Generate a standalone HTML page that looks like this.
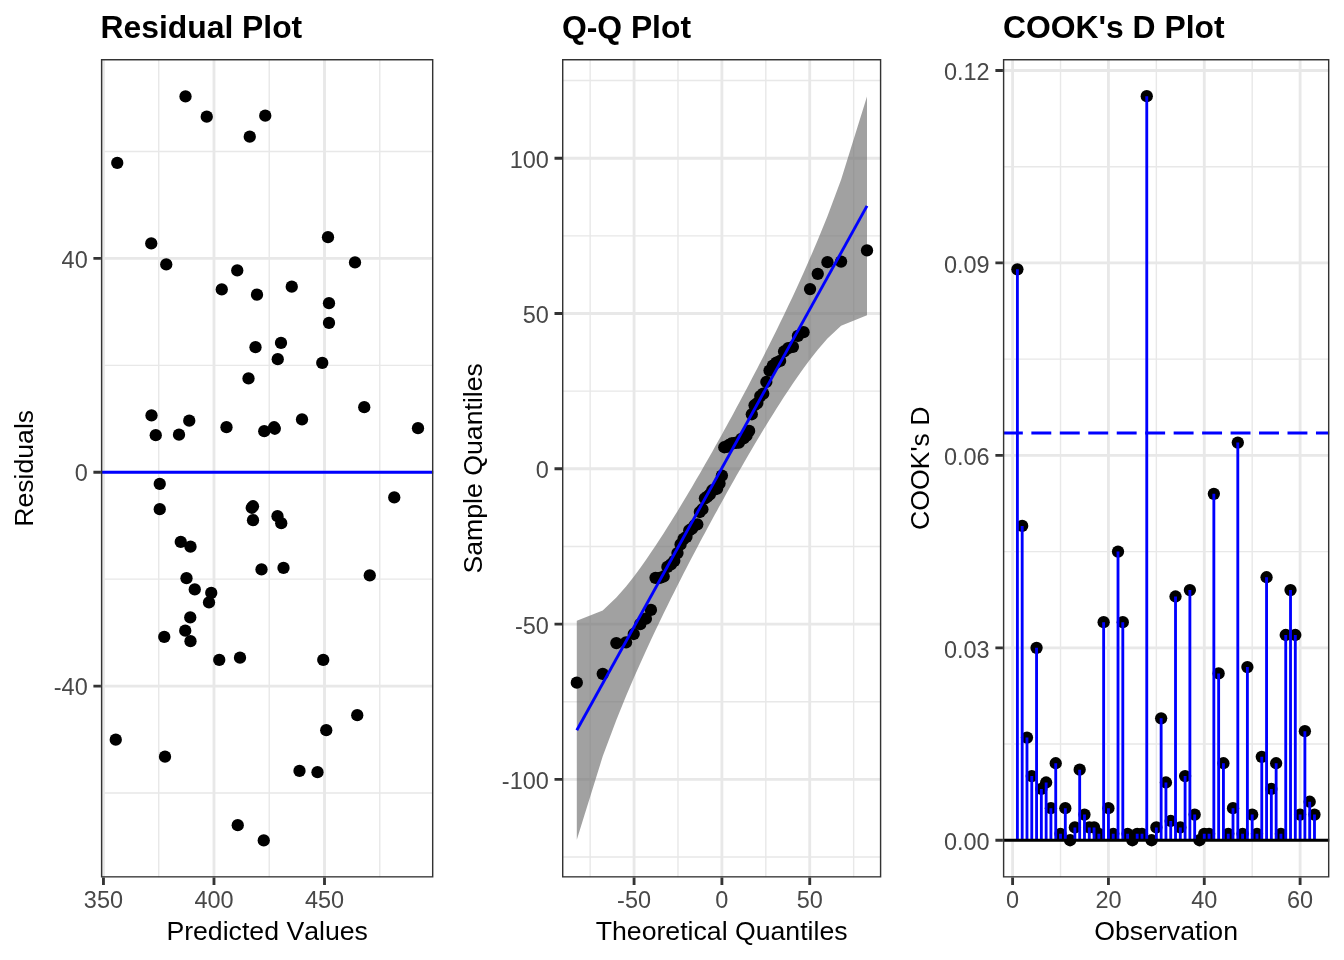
<!DOCTYPE html>
<html lang="en"><head><meta charset="utf-8"><title>Diagnostic Plots</title>
<style>html,body{margin:0;padding:0;background:#fff}svg{display:block}</style></head>
<body>
<svg width="1344" height="960" viewBox="0 0 1344 960" font-family="'Liberation Sans', Arial, Helvetica, sans-serif" style="font-kerning:none">
<rect width="1344" height="960" fill="#fff"/>
<clipPath id="c1"><rect x="100.9" y="59.05" width="332.5" height="818.55"/></clipPath>
<g clip-path="url(#c1)">
<rect x="100.9" y="59.05" width="332.5" height="818.55" fill="#fff"/>
<path d="M100.9 151.51H433.4M100.9 365.34H433.4M100.9 579.16H433.4M100.9 792.99H433.4M158.71 59.05V877.6M269.24 59.05V877.6M379.76 59.05V877.6" stroke="#E8E8E8" stroke-width="1.42" fill="none"/>
<path d="M100.9 258.43H433.4M100.9 472.25H433.4M100.9 686.07H433.4M103.45 59.05V877.6M213.98 59.05V877.6M324.5 59.05V877.6" stroke="#E8E8E8" stroke-width="2.85" fill="none"/>
<g fill="#000"><circle cx="185.5" cy="96.4" r="6.15"/><circle cx="206.75" cy="116.65" r="6.15"/><circle cx="265.25" cy="115.65" r="6.15"/><circle cx="249.75" cy="136.65" r="6.15"/><circle cx="117.25" cy="162.9" r="6.15"/><circle cx="151.25" cy="243.4" r="6.15"/><circle cx="166.25" cy="264.4" r="6.15"/><circle cx="237.25" cy="270.4" r="6.15"/><circle cx="221.75" cy="289.4" r="6.15"/><circle cx="257" cy="294.65" r="6.15"/><circle cx="291.75" cy="286.65" r="6.15"/><circle cx="329" cy="303.15" r="6.15"/><circle cx="329" cy="322.9" r="6.15"/><circle cx="281" cy="342.9" r="6.15"/><circle cx="255.5" cy="347.15" r="6.15"/><circle cx="277.75" cy="359.15" r="6.15"/><circle cx="322.25" cy="362.9" r="6.15"/><circle cx="248.5" cy="378.4" r="6.15"/><circle cx="151.5" cy="415.4" r="6.15"/><circle cx="189.25" cy="420.65" r="6.15"/><circle cx="155.75" cy="435.15" r="6.15"/><circle cx="179" cy="434.65" r="6.15"/><circle cx="226.5" cy="427.15" r="6.15"/><circle cx="264.25" cy="431.15" r="6.15"/><circle cx="274.1" cy="427.25" r="6.15"/><circle cx="274.8" cy="428.75" r="6.15"/><circle cx="302" cy="419.4" r="6.15"/><circle cx="328" cy="237.15" r="6.15"/><circle cx="355" cy="262.4" r="6.15"/><circle cx="364.25" cy="407.15" r="6.15"/><circle cx="418" cy="428.15" r="6.15"/><circle cx="159.75" cy="483.9" r="6.15"/><circle cx="159.75" cy="509.15" r="6.15"/><circle cx="253" cy="506.25" r="6.15"/><circle cx="251.75" cy="507.75" r="6.15"/><circle cx="253" cy="520.15" r="6.15"/><circle cx="277.5" cy="516.15" r="6.15"/><circle cx="281.25" cy="523.15" r="6.15"/><circle cx="180.75" cy="541.9" r="6.15"/><circle cx="190.5" cy="546.65" r="6.15"/><circle cx="261.5" cy="569.4" r="6.15"/><circle cx="283.5" cy="567.9" r="6.15"/><circle cx="186.5" cy="578.15" r="6.15"/><circle cx="194.75" cy="589.4" r="6.15"/><circle cx="211.25" cy="592.9" r="6.15"/><circle cx="209" cy="602.4" r="6.15"/><circle cx="190.25" cy="617.4" r="6.15"/><circle cx="185.25" cy="630.65" r="6.15"/><circle cx="164.25" cy="636.9" r="6.15"/><circle cx="190.5" cy="641.15" r="6.15"/><circle cx="219.25" cy="659.9" r="6.15"/><circle cx="240" cy="657.65" r="6.15"/><circle cx="323.25" cy="659.9" r="6.15"/><circle cx="394.25" cy="497.4" r="6.15"/><circle cx="369.75" cy="575.4" r="6.15"/><circle cx="357.25" cy="715.15" r="6.15"/><circle cx="115.75" cy="739.65" r="6.15"/><circle cx="165" cy="756.65" r="6.15"/><circle cx="326.25" cy="730.15" r="6.15"/><circle cx="299.5" cy="770.9" r="6.15"/><circle cx="317.5" cy="772.15" r="6.15"/><circle cx="237.75" cy="825.15" r="6.15"/><circle cx="263.75" cy="840.4" r="6.15"/></g>
<path d="M100.9 472.25H433.4" stroke="#0000FF" stroke-width="2.85"/>
<rect x="100.9" y="59.05" width="332.5" height="818.55" fill="none" stroke="#333333" stroke-width="2.85"/>
</g>
<path d="M103.45 877.6v7.4M213.98 877.6v7.4M324.5 877.6v7.4M100.9 258.43h-7.5M100.9 472.25h-7.5M100.9 686.07h-7.5" stroke="#333333" stroke-width="2.85" fill="none"/>
<g font-size="23.47" fill="#484848">
<text x="103.45" y="908" text-anchor="middle">350</text>
<text x="213.98" y="908" text-anchor="middle">400</text>
<text x="324.5" y="908" text-anchor="middle">450</text>
<text x="87.7" y="267.53" text-anchor="end">40</text>
<text x="87.7" y="481.35" text-anchor="end">0</text>
<text x="87.7" y="695.17" text-anchor="end">-40</text>
</g>
<text x="267.15" y="940" font-size="26.67" text-anchor="middle">Predicted Values</text>
<text transform="translate(33.4 468.32) rotate(-90)" font-size="26.67" text-anchor="middle">Residuals</text>
<text x="100.5" y="38.2" font-size="31.85" font-weight="bold">Residual Plot</text>
<clipPath id="c2"><rect x="562" y="59.05" width="319.3" height="818.55"/></clipPath>
<g clip-path="url(#c2)">
<rect x="562" y="59.05" width="319.3" height="818.55" fill="#fff"/>
<path d="M562 80.58H881.3M562 235.86H881.3M562 391.15H881.3M562 546.43H881.3M562 701.72H881.3M562 857H881.3M590.16 59.05V877.6M677.99 59.05V877.6M765.81 59.05V877.6M853.64 59.05V877.6" stroke="#E8E8E8" stroke-width="1.42" fill="none"/>
<path d="M562 158.22H881.3M562 313.5H881.3M562 468.79H881.3M562 624.08H881.3M562 779.36H881.3M634.07 59.05V877.6M721.9 59.05V877.6M809.73 59.05V877.6" stroke="#E8E8E8" stroke-width="2.85" fill="none"/>
<polygon points="576.8,620.82 602.73,610.44 616.35,597.58 626.05,586.43 633.75,576.66 640.23,567.92 645.88,559.96 650.92,552.62 655.52,545.77 659.75,539.32 663.7,533.2 667.41,527.36 670.92,521.76 674.27,516.36 677.48,511.14 680.57,506.06 683.55,501.12 686.44,496.3 689.25,491.57 691.99,486.92 694.67,482.36 697.29,477.85 699.87,473.4 702.41,468.99 704.92,464.62 707.4,460.28 709.85,455.96 712.28,451.65 714.7,447.35 717.11,443.05 719.51,438.75 721.9,434.43 724.29,430.1 726.69,425.73 729.1,421.34 731.52,416.9 733.95,412.42 736.4,407.87 738.88,403.26 741.39,398.58 743.93,393.8 746.51,388.93 749.13,383.94 751.81,378.83 754.55,373.57 757.36,368.14 760.25,362.53 763.23,356.7 766.32,350.62 769.53,344.25 772.88,337.55 776.39,330.45 780.1,322.87 784.05,314.73 788.28,305.87 792.88,296.13 797.92,285.23 803.57,272.77 810.05,258.1 817.75,240.05 827.45,216.16 841.07,179.81 867,96.47 867,315.33 841.07,325.71 827.45,338.57 817.75,349.72 810.05,359.49 803.57,368.23 797.92,376.19 792.88,383.53 788.28,390.38 784.05,396.83 780.1,402.95 776.39,408.79 772.88,414.39 769.53,419.79 766.32,425.01 763.23,430.09 760.25,435.03 757.36,439.85 754.55,444.58 751.81,449.23 749.13,453.79 746.51,458.3 743.93,462.75 741.39,467.16 738.88,471.53 736.4,475.87 733.95,480.19 731.52,484.5 729.1,488.8 726.69,493.1 724.29,497.4 721.9,501.72 719.51,506.05 717.11,510.42 714.7,514.81 712.28,519.25 709.85,523.73 707.4,528.28 704.92,532.89 702.41,537.57 699.87,542.35 697.29,547.22 694.67,552.21 691.99,557.32 689.25,562.58 686.44,568.01 683.55,573.62 680.57,579.45 677.48,585.53 674.27,591.9 670.92,598.6 667.41,605.7 663.7,613.28 659.75,621.42 655.52,630.28 650.92,640.02 645.88,650.92 640.23,663.38 633.75,678.05 626.05,696.1 616.35,719.99 602.73,756.34 576.8,839.68" fill="#6E6E6E" fill-opacity="0.65"/>
<g fill="#000"><circle cx="576.8" cy="682.68" r="6.15"/><circle cx="602.73" cy="673.82" r="6.15"/><circle cx="616.35" cy="643.03" r="6.15"/><circle cx="626.05" cy="642.3" r="6.15"/><circle cx="633.75" cy="634.02" r="6.15"/><circle cx="640.23" cy="624.14" r="6.15"/><circle cx="645.88" cy="618.63" r="6.15"/><circle cx="650.92" cy="609.91" r="6.15"/><circle cx="655.52" cy="577.81" r="6.15"/><circle cx="659.75" cy="577.81" r="6.15"/><circle cx="663.7" cy="576.5" r="6.15"/><circle cx="667.41" cy="566.92" r="6.15"/><circle cx="670.92" cy="564.45" r="6.15"/><circle cx="674.27" cy="560.82" r="6.15"/><circle cx="677.48" cy="553.12" r="6.15"/><circle cx="680.57" cy="544.4" r="6.15"/><circle cx="683.55" cy="538.89" r="6.15"/><circle cx="686.44" cy="536.85" r="6.15"/><circle cx="689.25" cy="530.32" r="6.15"/><circle cx="691.99" cy="528.72" r="6.15"/><circle cx="694.67" cy="525.23" r="6.15"/><circle cx="697.29" cy="524.36" r="6.15"/><circle cx="699.87" cy="512.02" r="6.15"/><circle cx="702.41" cy="509.26" r="6.15"/><circle cx="704.92" cy="498.36" r="6.15"/><circle cx="707.4" cy="496.62" r="6.15"/><circle cx="709.85" cy="494.3" r="6.15"/><circle cx="712.28" cy="490.23" r="6.15"/><circle cx="714.7" cy="489.41" r="6.15"/><circle cx="717.11" cy="488.54" r="6.15"/><circle cx="719.51" cy="483.4" r="6.15"/><circle cx="721.9" cy="475.56" r="6.15"/><circle cx="724.29" cy="447.24" r="6.15"/><circle cx="726.69" cy="446.95" r="6.15"/><circle cx="729.1" cy="444.91" r="6.15"/><circle cx="731.52" cy="443.52" r="6.15"/><circle cx="733.95" cy="443.17" r="6.15"/><circle cx="736.4" cy="442.65" r="6.15"/><circle cx="738.88" cy="442.59" r="6.15"/><circle cx="741.39" cy="438.81" r="6.15"/><circle cx="743.93" cy="438.09" r="6.15"/><circle cx="746.51" cy="435.76" r="6.15"/><circle cx="749.13" cy="430.97" r="6.15"/><circle cx="751.81" cy="414.26" r="6.15"/><circle cx="754.55" cy="405.26" r="6.15"/><circle cx="757.36" cy="403.08" r="6.15"/><circle cx="760.25" cy="396.11" r="6.15"/><circle cx="763.23" cy="393.64" r="6.15"/><circle cx="766.32" cy="382.02" r="6.15"/><circle cx="769.53" cy="370.55" r="6.15"/><circle cx="772.88" cy="365.61" r="6.15"/><circle cx="776.39" cy="362.56" r="6.15"/><circle cx="780.1" cy="360.96" r="6.15"/><circle cx="784.05" cy="351.52" r="6.15"/><circle cx="788.28" cy="348.03" r="6.15"/><circle cx="792.88" cy="346.87" r="6.15"/><circle cx="797.92" cy="335.83" r="6.15"/><circle cx="803.57" cy="332.2" r="6.15"/><circle cx="810.05" cy="289.06" r="6.15"/><circle cx="817.75" cy="273.81" r="6.15"/><circle cx="827.45" cy="262.19" r="6.15"/><circle cx="841.07" cy="261.61" r="6.15"/><circle cx="867" cy="250.43" r="6.15"/></g>
<path d="M576.8 730.25L867 205.9" stroke="#0000FF" stroke-width="2.85"/>
<rect x="562" y="59.05" width="319.3" height="818.55" fill="none" stroke="#333333" stroke-width="2.85"/>
</g>
<path d="M634.07 877.6v7.4M721.9 877.6v7.4M809.73 877.6v7.4M562 158.22h-7.5M562 313.5h-7.5M562 468.79h-7.5M562 624.08h-7.5M562 779.36h-7.5" stroke="#333333" stroke-width="2.85" fill="none"/>
<g font-size="23.47" fill="#484848">
<text x="634.07" y="908" text-anchor="middle">-50</text>
<text x="721.9" y="908" text-anchor="middle">0</text>
<text x="809.73" y="908" text-anchor="middle">50</text>
<text x="548.8" y="167.82" text-anchor="end">100</text>
<text x="548.8" y="323.1" text-anchor="end">50</text>
<text x="548.8" y="478.39" text-anchor="end">0</text>
<text x="548.8" y="633.68" text-anchor="end">-50</text>
<text x="548.8" y="788.96" text-anchor="end">-100</text>
</g>
<text x="721.65" y="940" font-size="26.67" text-anchor="middle">Theoretical Quantiles</text>
<text transform="translate(481.8 468.32) rotate(-90)" font-size="26.67" text-anchor="middle">Sample Quantiles</text>
<text x="561.9" y="38.2" font-size="31.85" font-weight="bold">Q-Q Plot</text>
<clipPath id="c3"><rect x="1002.9" y="59.05" width="326.5" height="818.55"/></clipPath>
<g clip-path="url(#c3)">
<rect x="1002.9" y="59.05" width="326.5" height="818.55" fill="#fff"/>
<path d="M1002.9 744.03H1329.4M1002.9 551.59H1329.4M1002.9 359.15H1329.4M1002.9 166.72H1329.4M1060.52 59.05V877.6M1156.35 59.05V877.6M1252.18 59.05V877.6" stroke="#E8E8E8" stroke-width="1.42" fill="none"/>
<path d="M1002.9 840.25H1329.4M1002.9 647.81H1329.4M1002.9 455.37H1329.4M1002.9 262.94H1329.4M1002.9 70.5H1329.4M1012.6 59.05V877.6M1108.43 59.05V877.6M1204.27 59.05V877.6M1300.1 59.05V877.6" stroke="#E8E8E8" stroke-width="2.85" fill="none"/>
<g fill="#000"><circle cx="1017.39" cy="269.35" r="6.15"/><circle cx="1022.18" cy="525.93" r="6.15"/><circle cx="1026.98" cy="737.62" r="6.15"/><circle cx="1031.77" cy="776.1" r="6.15"/><circle cx="1036.56" cy="647.81" r="6.15"/><circle cx="1041.35" cy="788.93" r="6.15"/><circle cx="1046.14" cy="782.52" r="6.15"/><circle cx="1050.93" cy="808.18" r="6.15"/><circle cx="1055.73" cy="763.27" r="6.15"/><circle cx="1060.52" cy="833.84" r="6.15"/><circle cx="1065.31" cy="808.18" r="6.15"/><circle cx="1070.1" cy="840.25" r="6.15"/><circle cx="1074.89" cy="827.42" r="6.15"/><circle cx="1079.68" cy="769.69" r="6.15"/><circle cx="1084.48" cy="814.59" r="6.15"/><circle cx="1089.27" cy="827.42" r="6.15"/><circle cx="1094.06" cy="827.42" r="6.15"/><circle cx="1098.85" cy="833.84" r="6.15"/><circle cx="1103.64" cy="622.15" r="6.15"/><circle cx="1108.43" cy="808.18" r="6.15"/><circle cx="1113.23" cy="833.84" r="6.15"/><circle cx="1118.02" cy="551.59" r="6.15"/><circle cx="1122.81" cy="622.15" r="6.15"/><circle cx="1127.6" cy="833.84" r="6.15"/><circle cx="1132.39" cy="840.25" r="6.15"/><circle cx="1137.18" cy="833.84" r="6.15"/><circle cx="1141.98" cy="833.84" r="6.15"/><circle cx="1146.77" cy="96.16" r="6.15"/><circle cx="1151.56" cy="840.25" r="6.15"/><circle cx="1156.35" cy="827.42" r="6.15"/><circle cx="1161.14" cy="718.37" r="6.15"/><circle cx="1165.93" cy="782.52" r="6.15"/><circle cx="1170.73" cy="821.01" r="6.15"/><circle cx="1175.52" cy="596.5" r="6.15"/><circle cx="1180.31" cy="827.42" r="6.15"/><circle cx="1185.1" cy="776.1" r="6.15"/><circle cx="1189.89" cy="590.08" r="6.15"/><circle cx="1194.68" cy="814.59" r="6.15"/><circle cx="1199.48" cy="840.25" r="6.15"/><circle cx="1204.27" cy="833.84" r="6.15"/><circle cx="1209.06" cy="833.84" r="6.15"/><circle cx="1213.85" cy="493.86" r="6.15"/><circle cx="1218.64" cy="673.47" r="6.15"/><circle cx="1223.43" cy="763.27" r="6.15"/><circle cx="1228.23" cy="833.84" r="6.15"/><circle cx="1233.02" cy="808.18" r="6.15"/><circle cx="1237.81" cy="442.54" r="6.15"/><circle cx="1242.6" cy="833.84" r="6.15"/><circle cx="1247.39" cy="667.06" r="6.15"/><circle cx="1252.18" cy="814.59" r="6.15"/><circle cx="1256.98" cy="833.84" r="6.15"/><circle cx="1261.77" cy="756.86" r="6.15"/><circle cx="1266.56" cy="577.25" r="6.15"/><circle cx="1271.35" cy="788.93" r="6.15"/><circle cx="1276.14" cy="763.27" r="6.15"/><circle cx="1280.94" cy="833.84" r="6.15"/><circle cx="1285.73" cy="634.98" r="6.15"/><circle cx="1290.52" cy="590.08" r="6.15"/><circle cx="1295.31" cy="634.98" r="6.15"/><circle cx="1300.1" cy="814.59" r="6.15"/><circle cx="1304.89" cy="731.2" r="6.15"/><circle cx="1309.69" cy="801.76" r="6.15"/><circle cx="1314.48" cy="814.59" r="6.15"/></g>
<path d="M1017.39 840.25V269.35M1022.18 840.25V525.93M1026.98 840.25V737.62M1031.77 840.25V776.1M1036.56 840.25V647.81M1041.35 840.25V788.93M1046.14 840.25V782.52M1050.93 840.25V808.18M1055.73 840.25V763.27M1060.52 840.25V833.84M1065.31 840.25V808.18M1074.89 840.25V827.42M1079.68 840.25V769.69M1084.48 840.25V814.59M1089.27 840.25V827.42M1094.06 840.25V827.42M1098.85 840.25V833.84M1103.64 840.25V622.15M1108.43 840.25V808.18M1113.23 840.25V833.84M1118.02 840.25V551.59M1122.81 840.25V622.15M1127.6 840.25V833.84M1137.18 840.25V833.84M1141.98 840.25V833.84M1146.77 840.25V96.16M1156.35 840.25V827.42M1161.14 840.25V718.37M1165.93 840.25V782.52M1170.73 840.25V821.01M1175.52 840.25V596.5M1180.31 840.25V827.42M1185.1 840.25V776.1M1189.89 840.25V590.08M1194.68 840.25V814.59M1204.27 840.25V833.84M1209.06 840.25V833.84M1213.85 840.25V493.86M1218.64 840.25V673.47M1223.43 840.25V763.27M1228.23 840.25V833.84M1233.02 840.25V808.18M1237.81 840.25V442.54M1242.6 840.25V833.84M1247.39 840.25V667.06M1252.18 840.25V814.59M1256.98 840.25V833.84M1261.77 840.25V756.86M1266.56 840.25V577.25M1271.35 840.25V788.93M1276.14 840.25V763.27M1280.94 840.25V833.84M1285.73 840.25V634.98M1290.52 840.25V590.08M1295.31 840.25V634.98M1300.1 840.25V814.59M1304.89 840.25V731.2M1309.69 840.25V801.76M1314.48 840.25V814.59" stroke="#0000FF" stroke-width="2.85" fill="none"/>
<path d="M1002.9 432.97H1329.4" stroke="#0000FF" stroke-width="2.85" stroke-dasharray="19.92 8.54"/>
<path d="M1002.9 840.25H1329.4" stroke="#000" stroke-width="2.85"/>
<rect x="1002.9" y="59.05" width="326.5" height="818.55" fill="none" stroke="#333333" stroke-width="2.85"/>
</g>
<path d="M1012.6 877.6v7.4M1108.43 877.6v7.4M1204.27 877.6v7.4M1300.1 877.6v7.4M1002.9 840.25h-7.5M1002.9 647.81h-7.5M1002.9 455.37h-7.5M1002.9 262.94h-7.5M1002.9 70.5h-7.5" stroke="#333333" stroke-width="2.85" fill="none"/>
<g font-size="23.47" fill="#484848">
<text x="1012.6" y="908" text-anchor="middle">0</text>
<text x="1108.43" y="908" text-anchor="middle">20</text>
<text x="1204.27" y="908" text-anchor="middle">40</text>
<text x="1300.1" y="908" text-anchor="middle">60</text>
<text x="989.7" y="850.05" text-anchor="end">0.00</text>
<text x="989.7" y="657.61" text-anchor="end">0.03</text>
<text x="989.7" y="465.17" text-anchor="end">0.06</text>
<text x="989.7" y="272.74" text-anchor="end">0.09</text>
<text x="989.7" y="80.3" text-anchor="end">0.12</text>
</g>
<text x="1166.15" y="940" font-size="26.67" text-anchor="middle">Observation</text>
<text transform="translate(929.4 468.32) rotate(-90)" font-size="26.67" text-anchor="middle">COOK's D</text>
<text x="1002.9" y="38.2" font-size="31.85" font-weight="bold">COOK's D Plot</text>
</svg>
</body></html>
